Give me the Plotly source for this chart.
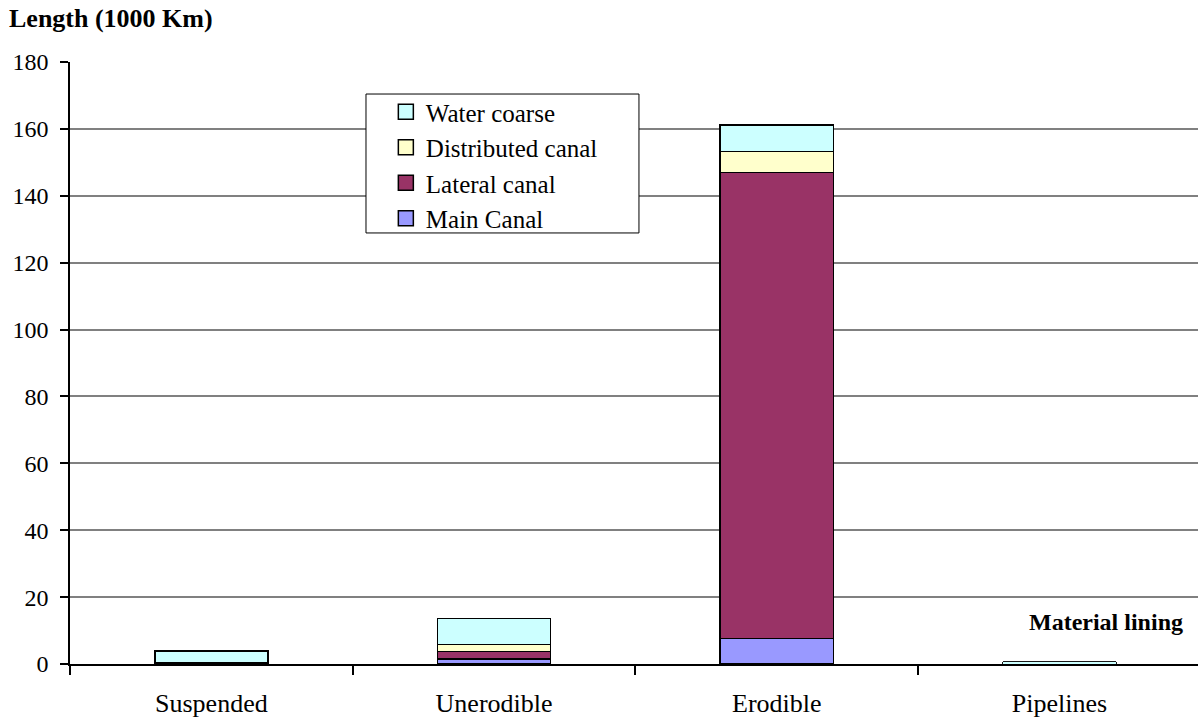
import plotly.graph_objects as go

# Canal length by lining type (thousand km)
categories = ["Suspended", "Unerodible", "Erodible", "Pipelines"]
main_canal = [0.1, 1.5, 7.6, 0.0]
lateral_canal = [0.1, 2.2, 139.4, 0.0]
distributed_canal = [0.1, 2.1, 6.2, 0.0]
water_coarse = [3.6, 7.8, 7.9, 0.6]

y_ticks = [0, 20, 40, 60, 80, 100, 120, 140, 160, 180]

series = [
    ("Main Canal", main_canal, "#9999FF"),
    ("Lateral canal", lateral_canal, "#993366"),
    ("Distributed canal", distributed_canal, "#FFFFCC"),
    ("Water coarse", water_coarse, "#CCFFFF"),
]

FONT = "Times New Roman, Liberation Serif, serif"


def outline_width(v):
    # thinner outline for hairline segments so the fill still shows through
    if v <= 0:
        return 0
    return 1.6 if v >= 1 else 0.9


fig = go.Figure()
for name, vals, color in series:
    fig.add_trace(go.Bar(
        x=categories, y=vals, name=name, showlegend=False,
        marker=dict(color=color,
                    line=dict(color="black", width=[outline_width(v) for v in vals])),
        width=0.40,
    ))

# legend entries with larger square swatches, top entry = top of stack
for name, vals, color in reversed(series):
    fig.add_trace(go.Scatter(
        x=[None], y=[None], mode="markers", name=name, showlegend=True,
        marker=dict(symbol="square", size=15, color=color,
                    line=dict(color="black", width=1.5)),
    ))

fig.update_layout(
    width=1198, height=718,
    paper_bgcolor="white", plot_bgcolor="white",
    barmode="stack",
    margin=dict(l=70, r=0, t=62, b=54),
    font=dict(family=FONT, size=24, color="black"),
    showlegend=True,
    legend=dict(
        x=0.28, y=0.955, xanchor="left", yanchor="top",
        bgcolor="rgba(0,0,0,0)", borderwidth=0,
        traceorder="normal", tracegroupgap=0,
        font=dict(family=FONT, size=25, color="black"),
    ),
    shapes=[
        dict(type="rect", xref="paper", yref="paper",
             x0=0.2624, x1=0.5044, y0=0.716, y1=0.9468,
             line=dict(color="black", width=1), fillcolor="white", layer="above"),
    ],
    annotations=[
        dict(text="<b>Length (1000 Km)</b>", xref="paper", yref="paper",
             x=-0.056, y=1.045, xanchor="left", yanchor="bottom",
             showarrow=False, font=dict(family=FONT, size=26)),
        dict(text="<b>Material lining</b>", xref="paper", yref="paper",
             x=0.9885, y=0.069, xanchor="right", yanchor="middle",
             showarrow=False, font=dict(family=FONT, size=24)),
    ],
)

fig.update_xaxes(
    range=[-0.5, 3.49],
    showline=True, linecolor="black", linewidth=1.5,
    ticks="outside", tickson="boundaries", ticklen=9, tickwidth=1.5, tickcolor="black",
    ticklabelstandoff=15,
    showgrid=False,
    tickfont=dict(family=FONT, size=26),
)
fig.update_yaxes(
    range=[0, 180], tickvals=y_ticks,
    showline=True, linecolor="black", linewidth=1.5,
    ticks="outside", ticklen=8, tickwidth=1.5, tickcolor="black",
    ticklabelstandoff=7,
    showgrid=True, gridcolor="#808080", gridwidth=1.5,
    zeroline=False,
    tickfont=dict(family=FONT, size=24),
)

fig.write_html("out.html")
